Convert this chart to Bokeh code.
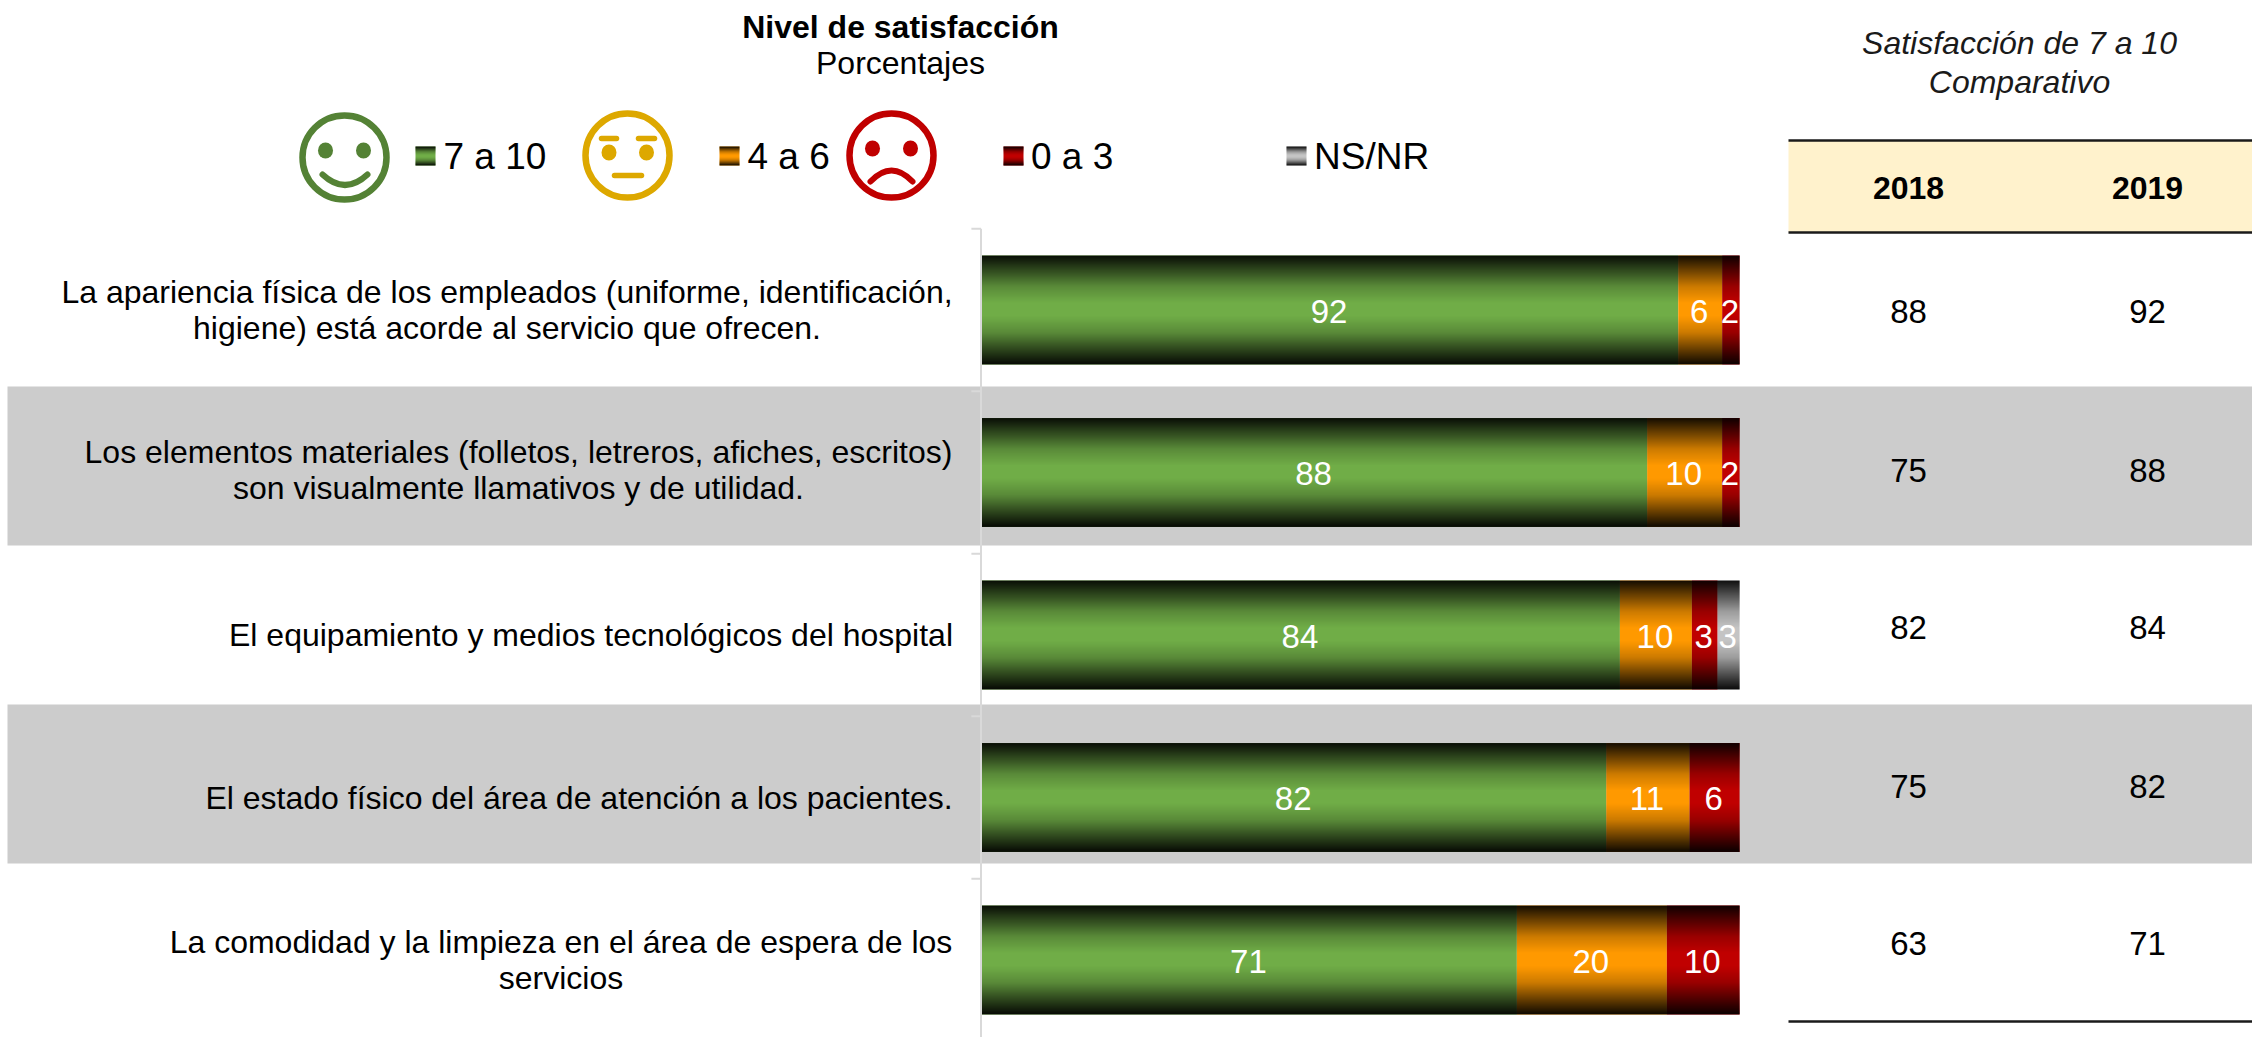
import numpy as np
from bokeh.plotting import figure
from bokeh.models import Range1d, ColumnDataSource
from bokeh.core.properties import value
from bokeh.embed import file_html
from bokeh.resources import INLINE

# ---------- data ----------
categories = [
    "La apariencia física de los empleados (uniforme, identificación,\nhigiene) está acorde al servicio que ofrecen.",
    "Los elementos materiales (folletos, letreros, afiches, escritos)\nson visualmente llamativos y de utilidad.",
    "El equipamiento y medios tecnológicos del hospital",
    "El estado físico del área de atención a los pacientes.",
    "La comodidad y la limpieza en el área de espera de los\nservicios",
]
series_names = ["7 a 10", "4 a 6", "0 a 3", "NS/NR"]
s_7_10 = [91.9, 87.8, 84.2, 82.4, 70.6]
s_4_6 = [5.8, 9.9, 9.5, 11.0, 19.8]
s_0_3 = [2.3, 2.3, 3.4, 6.6, 9.6]
s_nsnr = [0.0, 0.0, 2.9, 0.0, 0.0]
labels_7_10 = ["92", "88", "84", "82", "71"]
labels_4_6 = ["6", "10", "10", "11", "20"]
labels_0_3 = ["2", "2", "3", "6", "10"]
labels_nsnr = ["", "", "3", "", ""]
years = ["2018", "2019"]
comp_2018 = [88, 75, 82, 75, 63]
comp_2019 = [92, 88, 84, 82, 71]

series_values = [s_7_10, s_4_6, s_0_3, s_nsnr]
series_labels = [labels_7_10, labels_4_6, labels_0_3, labels_nsnr]
series_colors = ["#70AD47", "#FF9900", "#C00000", "#C4C4C4"]

# ---------- layout (reference pixels) ----------
W, H = 2252, 1037
FONT = value("Liberation Sans")
X0, PX_PER_PCT = 981.5, 7.576
Y_TOP, ROW = 309.5, 162.5
BAR_H = 0.67
CAT_CX = [506.5, 518, 590.5, 578.5, 560.5]
CAT_DY = [0, -3, 0, 0, -0.5]
TABLE_X = [1908, 2147]
TABLE_Y = [311, 470, 627, 786, 943]


def py(v):
    return H - v


p = figure(
    width=W, height=H, output_backend="svg", toolbar_location=None,
    x_axis_location=None, y_axis_location=None, min_border=0,
    x_range=Range1d(-X0 / PX_PER_PCT, (W - X0) / PX_PER_PCT),
    y_range=Range1d(4 - (H - Y_TOP) / ROW, 4 + Y_TOP / ROW),
)
p.extra_x_ranges["px"] = Range1d(0, W)
p.extra_y_ranges["px"] = Range1d(0, H)
p.grid.visible = False
p.outline_line_color = None
p.background_fill_color = "white"
p.border_fill_color = "white"
PX = dict(x_range_name="px", y_range_name="px")


def txt(x, y, t, size=32, color="#000000", align="center", style="normal", lh=1.0):
    p.text([x], [py(y)], text=[t], text_font=FONT, text_font_size=value(f"{size}px"),
           text_color=color, text_align=align, text_baseline="middle",
           text_font_style=style, text_line_height=lh, **PX)


# alternating bands
for top, bot in [(386, 545), (704, 863)]:
    p.quad(left=[7], right=[W], top=[py(top)], bottom=[py(bot)],
           fill_color="#CCCCCC", line_color=None, **PX)

# category axis
n = len(categories)
ys = [n - 1 - i for i in range(n)]
p.segment(x0=[-0.13], y0=[n - 0.5], x1=[-0.13], y1=[-0.477], line_color="#D9D9D9", line_width=2)
p.segment(x0=[-1.4] * n, y0=[y + 0.5 for y in ys], x1=[-0.13] * n, y1=[y + 0.5 for y in ys],
          line_color="#D9D9D9", line_width=2)

# shading: black veil, opaque at the edges, clear in the middle
t = np.linspace(0, 1, 55)
factor = np.interp(t, [0, .28, .58, .88, 1], [.06, .42, .8, 1, 1])
veil_a = np.concatenate([factor, factor[::-1]])


def veil():
    img = np.zeros((len(veil_a), 1), dtype=np.uint32)
    view = img.view(np.uint8).reshape((len(veil_a), 1, 4))
    view[:, 0, 3] = np.round((1 - veil_a) * 255).astype(np.uint8)
    return img


# stacked bars
left = np.zeros(n)
for vals, labs, col in zip(series_values, series_labels, series_colors):
    vals = np.array(vals)
    right = left + vals
    keep = vals > 0
    src = ColumnDataSource(dict(y=np.array(ys)[keep], left=left[keep], right=right[keep]))
    p.hbar(y="y", left="left", right="right", height=BAR_H, fill_color=col, line_color=None, source=src)
    left = right

totals = left
for y, tot in zip(ys, totals):
    p.image_rgba(image=[veil()], x=[0], y=[y - BAR_H / 2], dw=[tot], dh=[BAR_H])

# value labels
left = np.zeros(n)
for vals, labs in zip(series_values, series_labels):
    vals = np.array(vals)
    mid = left + vals / 2 - 1 / PX_PER_PCT
    keep = vals > 0
    src = ColumnDataSource(dict(x=mid[keep], y=np.array(ys)[keep] - 1 / ROW,
                                t=[l for l, k in zip(labs, keep) if k]))
    p.text(x="x", y="y", text="t", source=src, text_font=FONT, text_font_size=value("33px"),
           text_color="white", text_align="center", text_baseline="middle")
    left = left + vals

# category labels
for i, c in enumerate(categories):
    txt(CAT_CX[i], Y_TOP + i * ROW + CAT_DY[i], c, size=32)

# titles
txt(900, 26, "Nivel de satisfacción", style="bold")
txt(900, 62, "Porcentajes")

# legend
for name, col, sx, tx in zip(series_names, series_colors, [415, 719, 1003, 1286], [443, 747, 1030.5, 1313.5]):
    p.quad(left=[sx], right=[sx + 20], top=[py(146)], bottom=[py(165)], fill_color=col, line_color=None, **PX)
    p.image_rgba(image=[veil()], x=[sx], y=[py(165)], dw=[20], dh=[19], **PX)
    txt(tx, 156, name, size=37, align="left")

# faces
GREEN, YELLOW, RED = "#548235", "#DDA800", "#C00000"


def head(cx, cy, col):
    p.ellipse(x=[cx], y=[py(cy)], width=[84], height=[84], fill_color=None, line_color=col, line_width=6.5, **PX)


def eyes(x1, x2, y, col):
    p.ellipse(x=[x1, x2], y=[py(y)] * 2, width=[15, 15], height=[16, 16], fill_color=col, line_color=None, **PX)


head(344, 157, GREEN)
eyes(325, 363, 150, GREEN)
p.quadratic(x0=[322], y0=[py(174)], x1=[367], y1=[py(174)], cx=[344.5], cy=[py(195)],
            line_color=GREEN, line_width=6, line_cap="round", **PX)
head(627, 155, YELLOW)
eyes(608.5, 646, 152, YELLOW)
p.segment(x0=[601, 638, 614], y0=[py(138), py(138), py(175)], x1=[616, 654, 641], y1=[py(138), py(138), py(175)],
          line_color=YELLOW, line_width=5.5, line_cap="round", **PX)
head(891, 155, RED)
eyes(872, 910, 148, RED)
p.quadratic(x0=[870], y0=[py(181)], x1=[912], y1=[py(181)], cx=[891], cy=[py(159)],
            line_color=RED, line_width=6, line_cap="round", **PX)

# comparison table
txt(2019, 42, "Satisfacción de 7 a 10", color="#1a1a1a", style="italic")
txt(2019, 81, "Comparativo", color="#1a1a1a", style="italic")
p.quad(left=[1788], right=[W], top=[py(140)], bottom=[py(232)], fill_color="#FFF2CC", line_color=None, **PX)
for yy in (140, 232, 1021):
    p.segment(x0=[1788], y0=[py(yy)], x1=[W], y1=[py(yy)], line_color="#1a1a1a", line_width=2.5, **PX)
for x, yr in zip(TABLE_X, years):
    txt(x, 187, yr, style="bold")
for x, col_vals in zip(TABLE_X, [comp_2018, comp_2019]):
    for y, v in zip(TABLE_Y, col_vals):
        txt(x, y, str(v), size=33)

open("out.html", "w").write(file_html(p, INLINE))
